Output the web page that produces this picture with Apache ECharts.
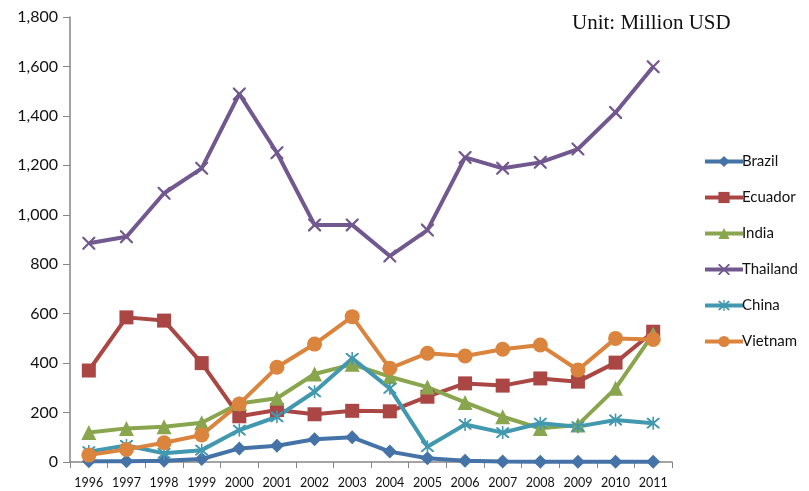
<!DOCTYPE html>
<html>
<head>
<meta charset="utf-8">
<script src="https://cdn.jsdelivr.net/npm/echarts@6/dist/echarts.min.js"></script>
<style>
  html, body { margin: 0; padding: 0; background: #fff; }
  #chart { width: 809px; height: 491px; }
</style>
</head>
<body>
<div id="chart"></div>
<script>
// years and values (million USD)
var years = ["1996", "1997", "1998", "1999", "2000", "2001", "2002", "2003",
  "2004", "2005", "2006", "2007", "2008", "2009", "2010", "2011"];
var brazil = [3, 3, 5, 12, 55, 66, 92, 100, 42, 15, 5, 2, 1, 1, 1, 1];
var ecuador = [370, 585, 572, 400, 185, 210, 193, 207, 205, 264, 318, 309, 338, 325, 402, 527];
var india = [119, 136, 143, 159, 237, 258, 356, 395, 345, 303, 241, 183, 136, 150, 298, 518];
var thailand = [885, 911, 1087, 1188, 1489, 1251, 959, 959, 833, 938, 1232, 1188, 1212, 1266, 1414, 1599];
var china = [42, 67, 35, 48, 129, 183, 284, 419, 298, 62, 152, 119, 157, 143, 170, 157];
var vietnam = [28, 51, 78, 109, 235, 383, 477, 588, 379, 440, 429, 456, 473, 372, 500, 496];

var xMark = "path://M0,0L1.2,0L10,8.8L10,10L8.8,10L0,1.2Z M8.8,0L10,0L10,1.2L1.2,10L0,10L0,8.8Z";
var starMark = "path://M0,0L1.2,0L10,8.8L10,10L8.8,10L0,1.2Z M8.8,0L10,0L10,1.2L1.2,10L0,10L0,8.8Z M4.4,-1L5.6,-1L5.6,11L4.4,11Z";

function mkSeries(name, data, color, symbol, size) {
  return {
    name: name,
    type: "line",
    data: data,
    symbol: symbol,
    symbolSize: size,
    showAllSymbol: true,
    lineStyle: { color: color, width: 4 },
    itemStyle: { color: color, borderWidth: 0 },
    emphasis: { disabled: true }
  };
}

var chart = echarts.init(document.getElementById("chart"));
chart.setOption({
  animation: false,
  grid: { left: 70, right: 137, top: 17, bottom: 29, containLabel: false },
  graphic: [{
    type: "text",
    left: 572, top: 13,
    style: { text: "Unit: Million USD", font: "21px 'Liberation Serif', 'Times New Roman', serif", fill: "#111" }
  }],
  legend: {
    orient: "vertical",
    left: 698, top: 149,
    itemWidth: 38, itemHeight: 14, itemGap: 21,
    lineStyle: { width: 4 },
    textStyle: { fontFamily: "Lato", fontSize: 15, color: "#111", padding: [0, 0, 0, -6] },
    data: ["Brazil", "Ecuador", "India", "Thailand", "China", "Vietnam"]
  },
  xAxis: {
    type: "category",
    data: years,
    boundaryGap: true,
    axisLine: { lineStyle: { color: "#868686", width: 1.5 } },
    axisTick: { show: true, inside: false, length: 6, lineStyle: { color: "#868686" } },
    axisLabel: { fontFamily: "Lato", fontSize: 12.5, color: "#111", margin: 14, interval: 0 }
  },
  yAxis: {
    type: "value",
    min: 0, max: 1800, interval: 200,
    splitLine: { show: false },
    axisLine: { show: true, lineStyle: { color: "#868686", width: 1.5 } },
    axisTick: { show: true, length: 7, lineStyle: { color: "#868686" } },
    axisLabel: {
      fontFamily: "Lato", fontSize: 16, color: "#111", margin: 12,
      formatter: function (v) { return v.toLocaleString("en-US"); }
    }
  },
  series: [
    mkSeries("Brazil", brazil, "#4572A7", "diamond", 14),
    mkSeries("Ecuador", ecuador, "#AA4643", "rect", 14),
    mkSeries("India", india, "#89A54E", "triangle", 15),
    mkSeries("Thailand", thailand, "#71588F", xMark, 13),
    mkSeries("China", china, "#4198AF", starMark, 13),
    mkSeries("Vietnam", vietnam, "#DB843D", "circle", 15)
  ]
});
</script>
</body>
</html>
